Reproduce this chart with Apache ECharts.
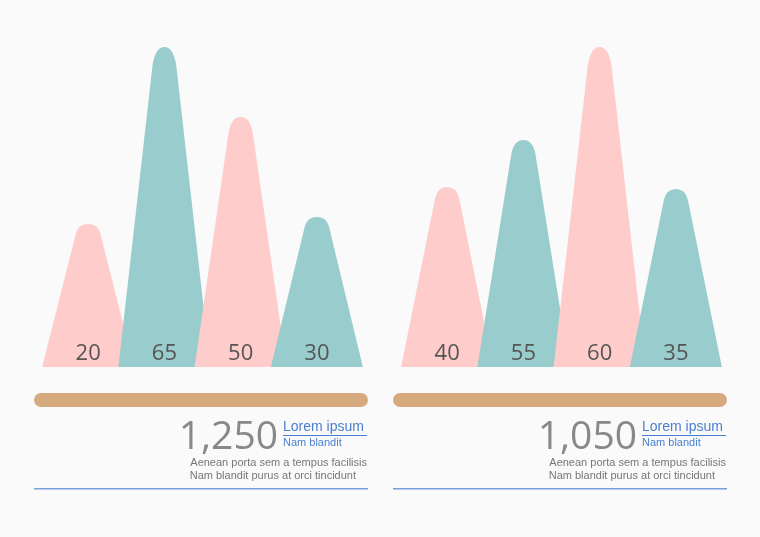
<!DOCTYPE html>
<html><head><meta charset="utf-8">
<script src="https://cdn.jsdelivr.net/npm/echarts@6/dist/echarts.min.js"></script>
<style>html,body{margin:0;background:#fafafa}#c{width:760px;height:537px}</style>
</head><body><div id="c"></div>
<script>
// peak heights (px-ish units) and printed labels
const leftHeights = [143, 320, 250, 150];
const leftLabels = ['20', '65', '50', '30'];
const rightHeights = [180, 227, 320, 178];
const rightLabels = ['40', '55', '60', '35'];
const totals = ['1,250', '1,050'];
const colors = ['#ffcccc', '#99cccc', '#ffcccc', '#99cccc'];
const cats = ['a', 'b', 'c', 'd'];

const shape = 'path://M0,100 L37,6 Q40,0 50,0 Q60,0 63,6 L100,100 Z';

function series(idx, heights, labels) {
  return {
    type: 'pictorialBar',
    xAxisIndex: idx, yAxisIndex: idx,
    symbol: shape,
    symbolSize: [92, '100%'],
    symbolPosition: 'start',
    data: heights.map((h, i) => ({
      value: h,
      z: i,
      itemStyle: { color: colors[i] },
      label: {
        show: true, position: 'insideBottom', formatter: labels[i],
        color: '#555', fontSize: 22, fontFamily: 'Open Sans', distance: 2
      }
    }))
  };
}

function footer(x0, t) {
  return [
    { type: 'rect', shape: { x: x0, y: 393, width: 334, height: 14, r: 7 }, style: { fill: '#d6aa7f' } },
    { type: 'text', style: { text: t, x: x0 + 244, y: 438, align: 'right', verticalAlign: 'middle', fill: '#888', font: '39px "Open Sans"' } },
    { type: 'text', style: { text: 'Lorem ipsum', x: x0 + 249, y: 427, verticalAlign: 'middle', fill: '#4a7fd0', font: '14px "Liberation Sans Narrow", "Liberation Sans"' } },
    { type: 'rect', shape: { x: x0 + 249, y: 435, width: 84, height: 1 }, style: { fill: '#4a7fd0' } },
    { type: 'text', style: { text: 'Nam blandit', x: x0 + 249, y: 443, verticalAlign: 'middle', fill: '#4a7fd0', font: '11px "Liberation Sans"' } },
    { type: 'text', style: { text: 'Aenean porta sem a tempus facilisis', x: x0 + 333, y: 463, align: 'right', verticalAlign: 'middle', fill: '#777', font: '11px "Liberation Sans"' } },
    { type: 'text', style: { text: 'Nam blandit purus at orci tincidunt', x: x0 + 322, y: 476, align: 'right', verticalAlign: 'middle', fill: '#777', font: '11px "Liberation Sans"' } },
    { type: 'rect', shape: { x: x0, y: 488, width: 334, height: 1.5 }, style: { fill: '#7a9fd8' } }
  ];
}

const chart = echarts.init(document.getElementById('c'));
chart.setOption({
  backgroundColor: '#fafafa',
  animation: false,
  grid: [
    { left: 50, width: 305, top: 47, height: 320 },
    { left: 409, width: 305, top: 47, height: 320 }
  ],
  xAxis: [0, 1].map(i => ({ gridIndex: i, type: 'category', data: cats, show: false })),
  yAxis: [0, 1].map(i => ({ gridIndex: i, type: 'value', min: 0, max: 320, show: false })),
  series: [
    series(0, leftHeights, leftLabels),
    series(1, rightHeights, rightLabels)
  ],
  graphic: footer(34, totals[0]).concat(footer(393, totals[1]))
});
</script></body></html>
